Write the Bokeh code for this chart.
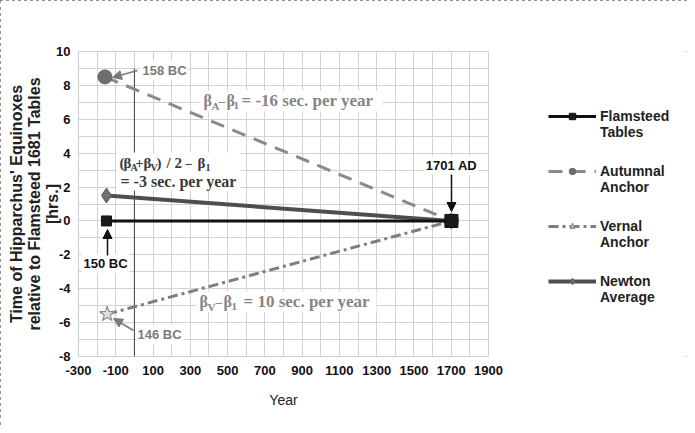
from bokeh.plotting import figure
from bokeh.layouts import row
from bokeh.models import (FixedTicker, Legend, LegendItem, Label, Arrow,
                          NormalHead, BoxAnnotation)
from bokeh.embed import file_html
from bokeh.resources import INLINE

# ---------------- data ----------------
flamsteed_years = [-150, 1701]
flamsteed_hrs = [0.0, 0.0]
autumnal_years = [-158, 1701]
autumnal_hrs = [8.5, 0.0]
vernal_years = [-146, 1701]
vernal_hrs = [-5.5, 0.0]
newton_years = [-150, 1701]
newton_hrs = [1.5, 0.0]

zero_line_x = [0]
zero_line_y0 = [-8]
zero_line_y1 = [9]

x_ticks = list(range(-300, 1901, 200))
x_minor = list(range(-300, 1901, 100))
y_ticks = list(range(-8, 11, 2))
y_minor = list(range(-8, 11, 1))

legend_labels = ["\nFlamsteed\nTables", "\nAutumnal\nAnchor", "\nVernal\nAnchor", "\nNewton\nAverage"]

# ---------------- styles ----------------
STYLE = {
    "flamsteed": dict(line=dict(line_color="#111111", line_width=3),
                      pts=dict(marker="square", size=[10, 13], fill_color="#1a1a1a", line_color="#111111")),
    "autumnal": dict(line=dict(line_color="#8a8a8a", line_width=3, line_dash="14 9"),
                     pts=dict(marker="circle", size=14, fill_color=["#6e6e6e", "#f2f2f2"], line_color="#606060")),
    "vernal": dict(line=dict(line_color="#7e7e7e", line_width=3, line_dash="10 4 3 4"),
                   pts=dict(marker="star", size=16, fill_color="#e4e4e4", line_color="#8c8c8c", line_width=1.2)),
    "newton": dict(line=dict(line_color="#4e4e4e", line_width=4),
                   pts=dict(marker="diamond", size=15, fill_color="#707070", line_color="#5a5a5a")),
}
SERIES = [("flamsteed", flamsteed_years, flamsteed_hrs),
          ("autumnal", autumnal_years, autumnal_hrs),
          ("vernal", vernal_years, vernal_hrs),
          ("newton", newton_years, newton_hrs)]

# ---------------- main figure ----------------
p = figure(width=508, height=425, x_range=(-300, 1900), y_range=(-8, 10),
           output_backend="svg", toolbar_location=None,
           min_border_left=78, min_border_right=20,
           min_border_top=51, min_border_bottom=69)
p.background_fill_color = "white"
p.border_fill_color = "white"
p.outline_line_color = "#d0d0d0"

GRID = "#d2d2d2"
p.xaxis.ticker = FixedTicker(ticks=x_ticks, minor_ticks=x_minor)
p.yaxis.ticker = FixedTicker(ticks=y_ticks, minor_ticks=y_minor)
p.xaxis.major_label_overrides = {t: str(t) for t in x_ticks}
p.yaxis.major_label_overrides = {t: str(t) for t in y_ticks}
for g in (p.xgrid, p.ygrid):
    g.grid_line_color = GRID
    g.minor_grid_line_color = GRID
    g.grid_line_width = 1
    g.minor_grid_line_width = 1

for ax in (p.xaxis, p.yaxis):
    ax.axis_line_color = None
    ax.major_tick_line_color = None
    ax.minor_tick_line_color = None
    ax.major_tick_out = 0
    ax.minor_tick_out = 0
    ax.major_label_text_font = "Liberation Sans"
    ax.major_label_text_font_style = "bold"
    ax.major_label_text_font_size = "13px"
    ax.major_label_text_color = "#111111"

p.xaxis.major_label_standoff = 9
p.yaxis.major_label_standoff = 8
p.xaxis.axis_label = "Year"
p.xaxis.axis_label_text_font = "Liberation Sans"
p.xaxis.axis_label_text_font_style = "normal"
p.xaxis.axis_label_text_font_size = "14px"
p.xaxis.axis_label_text_color = "#222222"
p.xaxis.axis_label_standoff = 14

p.yaxis.axis_label = "Time of Hipparchus' Equinoxes\nrelative to Flamsteed 1681 Tables\n[hrs.]"
p.yaxis.axis_label_text_font = "Liberation Sans"
p.yaxis.axis_label_text_font_style = "bold"
p.yaxis.axis_label_text_font_size = "16px"
p.yaxis.axis_label_text_color = "#222222"
p.yaxis.axis_label_text_line_height = 1.05
p.yaxis.axis_label_standoff = -8

# zero reference line
p.segment(x0=zero_line_x, y0=zero_line_y0, x1=zero_line_x, y1=zero_line_y1,
          line_color="#444444", line_width=1)

# draw order: autumnal, vernal, newton, flamsteed (on top)
for key, xs, ys in [SERIES[1], SERIES[2], SERIES[3], SERIES[0]]:
    p.line(xs, ys, **STYLE[key]["line"])
    p.scatter(xs, ys, **STYLE[key]["pts"])

# ---------------- annotations ----------------
XPX0, XPX1, YPX0, YPX1 = 78, 488, 51, 356


def dx(px):
    return -300 + (px - XPX0) * 2200.0 / (XPX1 - XPX0)


def dy(py):
    return 10 - (py - YPX0) * 18.0 / (YPX1 - YPX0)


def box(l, r, t, b):
    p.add_layout(BoxAnnotation(left=dx(l), right=dx(r), top=dy(t), bottom=dy(b),
                               fill_color="white", fill_alpha=1, line_color=None))


def put(text, px, py, size, color, font="Liberation Serif", align="left", bg=None):
    lab = Label(x=dx(px), y=dy(py), text=text, text_font=font, text_font_style="bold",
                text_font_size=f"{size}px", text_color=color, text_align=align,
                text_baseline="middle")
    if bg:
        lab.background_fill_color = bg
        lab.padding = 2
    p.add_layout(lab)


def arrow(px0, py0, px1, py1, color):
    p.add_layout(Arrow(end=NormalHead(size=9, fill_color=color, line_color=color),
                       x_start=dx(px0), y_start=dy(py0), x_end=dx(px1), y_end=dy(py1),
                       line_color=color, line_width=1.5))


GRAY_T = "#858585"
DARK_T = "#3a3a3a"

# formula 1
box(199, 382, 90, 111)
put("β", 203, 100, 16, GRAY_T)
put("A", 211, 105, 11, GRAY_T)
put("–", 218, 100, 13, GRAY_T)
put("β", 226, 100, 16, GRAY_T)
put("1", 233, 105, 11, GRAY_T)
put("= -16 sec. per year", 241, 100, 17, GRAY_T)

# formula 2
box(116, 240, 152, 190)
for txt, px, sz in [("(", 119, 15), ("β", 123, 15), ("+", 135, 14), ("β", 143, 15),
                    (")", 156, 15), ("/", 166, 15), ("2", 174, 15), ("–", 185, 13),
                    ("β", 197, 15)]:
    put(txt, px, 162, sz, DARK_T)
put("A", 130, 167, 10, DARK_T)
put("V", 150, 167, 10, DARK_T)
put("1", 205, 167, 10, DARK_T)
put("= -3 sec. per year", 120, 181, 16, DARK_T)

# formula 3
box(196, 376, 291, 312)
put("β", 199, 301, 16, GRAY_T)
put("V", 207, 306, 11, GRAY_T)
put("–", 215, 301, 13, GRAY_T)
put("β", 223, 301, 16, GRAY_T)
put("1", 231, 306, 11, GRAY_T)
put("= 10 sec. per year", 243, 301, 17, GRAY_T)

# point labels
put("158 BC", 140, 70, 13, "#7a7a7a", font="Liberation Sans", bg="white")
arrow(137, 70, 112, 77, "#7a7a7a")
put("150 BC", 105, 263, 13, "#111111", font="Liberation Sans", align="center", bg="white")
arrow(107, 255, 107, 229, "#111111")
put("146 BC", 135, 334, 13, "#7a7a7a", font="Liberation Sans", bg="white")
arrow(133, 330, 113, 318, "#7a7a7a")
put("1701 AD", 451, 165, 13, "#111111", font="Liberation Sans", align="center", bg="white")
arrow(451, 174, 451, 211, "#111111")

# ---------------- legend panel ----------------
lg = figure(width=179, height=425, x_range=(10000, 10001), y_range=(10000, 10001),
            output_backend="svg", toolbar_location=None,
            x_axis_location=None, y_axis_location=None,
            min_border=0)
lg.grid.visible = False
lg.outline_line_color = None
lg.background_fill_color = "white"
lg.border_fill_color = "white"

items = []
for (key, xs, ys), lab in zip(SERIES, legend_labels):
    r1 = lg.line(xs, ys, **STYLE[key]["line"])
    r2 = lg.scatter(xs, ys, **STYLE[key]["pts"])
    items.append(LegendItem(label=lab, renderers=[r1, r2], index=0))

legend = Legend(items=items, location=(40, 51))
legend.border_line_color = None
legend.background_fill_alpha = 0
legend.padding = 0
legend.margin = 0
legend.spacing = 7
legend.glyph_width = 48
legend.glyph_height = 16
legend.label_standoff = 4
legend.label_text_font = "Liberation Sans"
legend.label_text_font_style = "bold"
legend.label_text_font_size = "14px"
legend.label_text_line_height = 1.15
legend.label_text_color = "#222222"
lg.add_layout(legend)

layout = row(p, lg)
layout.styles = {"outline": "3px dotted #707070", "outline-offset": "-3px"}
open("out.html", "w").write(file_html(layout, INLINE))
